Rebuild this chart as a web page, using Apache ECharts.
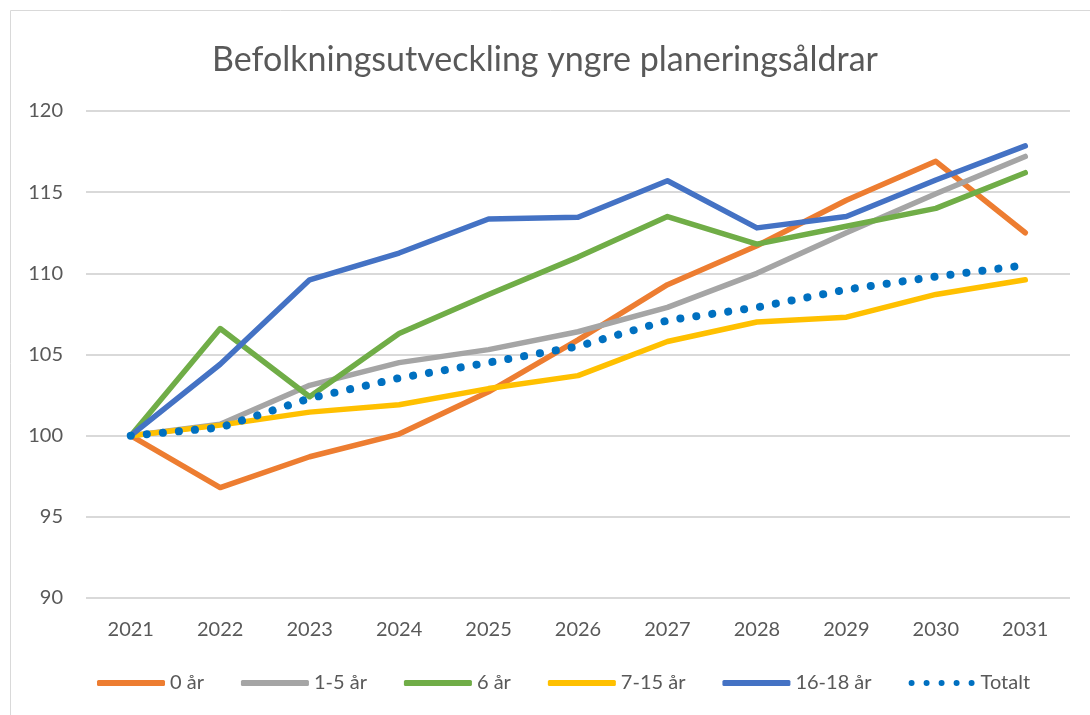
<!DOCTYPE html>
<html>
<head>
<meta charset="utf-8">
<script src="https://cdn.jsdelivr.net/npm/echarts@6/dist/echarts.min.js"></script>
<style>
  html, body { margin: 0; padding: 0; background: #fff; }
  #chart { width: 1090px; height: 715px; }
</style>
</head>
<body>
<div id="chart"></div>
<script>
// data
const years = ["2021", "2022", "2023", "2024", "2025", "2026", "2027", "2028", "2029", "2030", "2031"];
const age0 = [100, 96.8, 98.7, 100.1, 102.7, 105.9, 109.3, 111.7, 114.5, 116.9, 112.5];
const age1to5 = [100, 100.7, 103.1, 104.5, 105.3, 106.4, 107.9, 110.0, 112.5, 114.9, 117.2];
const age6 = [100, 106.6, 102.4, 106.3, 108.7, 111.0, 113.5, 111.8, 112.9, 114.0, 116.2];
const age7to15 = [100, 100.65, 101.45, 101.9, 102.9, 103.7, 105.8, 107.0, 107.3, 108.7, 109.6];
const age16to18 = [100, 104.4, 109.6, 111.25, 113.35, 113.45, 115.7, 112.8, 113.5, 115.75, 117.85];
const total = [100, 100.5, 102.3, 103.55, 104.5, 105.5, 107.1, 107.9, 109.0, 109.8, 110.5];

const font = "Lato";
const chart = echarts.init(document.getElementById("chart"));

// five round dots for the "Totalt" legend icon
const dotsIcon =
  "path://" +
  [3, 18, 33, 48, 63]
    .map((cx) => `M${cx - 3},3a3,3 0 1,0 6,0a3,3 0 1,0 -6,0Z`)
    .join("");

const solid = (name, data, color) => ({
  name,
  type: "line",
  data,
  symbol: "none",
  lineStyle: { width: 5.5, color, cap: "round", join: "round" },
  itemStyle: { color },
});

chart.setOption({
  animation: false,
  textStyle: { fontFamily: font },
  graphic: [
    {
      type: "rect",
      shape: { x: 10.5, y: 10.5, width: 1200, height: 1200 },
      style: { fill: "none", stroke: "#d9d9d9", lineWidth: 1 },
      silent: true,
    },
  ],
  title: {
    text: "Befolkningsutveckling yngre planeringsåldrar",
    left: "center",
    top: 38,
    textStyle: { fontFamily: font, fontSize: 34, fontWeight: "normal", color: "#595959" },
  },
  legend: {
    bottom: 17,
    left: 92,
    itemWidth: 68,
    itemHeight: 6,
    itemGap: 37,
    textStyle: { fontFamily: font, fontSize: 20, color: "#595959" },
    data: [
      { name: "0 år", icon: "roundRect" },
      { name: "1-5 år", icon: "roundRect" },
      { name: "6 år", icon: "roundRect" },
      { name: "7-15 år", icon: "roundRect" },
      { name: "16-18 år", icon: "roundRect" },
      { name: "Totalt", icon: dotsIcon },
    ],
  },
  grid: { left: 86, right: 20, top: 111, bottom: 117 },
  xAxis: {
    type: "category",
    data: years,
    boundaryGap: true,
    axisLine: { show: false },
    axisTick: { show: false },
    axisLabel: { fontSize: 20, color: "#595959", margin: 22 },
  },
  yAxis: {
    type: "value",
    min: 90,
    max: 120,
    interval: 5,
    axisLine: { show: false },
    axisTick: { show: false },
    axisLabel: { fontSize: 20, color: "#595959", margin: 23 },
    splitLine: { lineStyle: { color: "#d9d9d9", width: 2 } },
  },
  series: [
    solid("0 år", age0, "#ED7D31"),
    solid("1-5 år", age1to5, "#A5A5A5"),
    solid("6 år", age6, "#70AD47"),
    solid("7-15 år", age7to15, "#FFC000"),
    solid("16-18 år", age16to18, "#4472C4"),
    {
      name: "Totalt",
      type: "line",
      data: total,
      symbol: "none",
      lineStyle: { width: 8, color: "#0070C0", type: [0.1, 16], cap: "round" },
      itemStyle: { color: "#0070C0" },
    },
  ],
});
</script>
</body>
</html>
